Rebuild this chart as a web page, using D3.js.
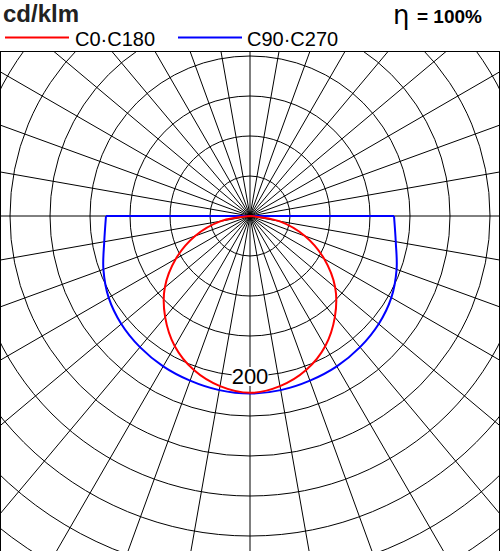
<!DOCTYPE html>
<html><head><meta charset="utf-8">
<script src="https://cdn.jsdelivr.net/npm/d3@7"></script>
<style>body{margin:0;background:#fff}</style>
</head><body>
<svg id="c" width="500" height="551"></svg>
<script>
// gamma angles (deg from nadir) and intensities in cd/klm
var angles = [0, 10, 20, 30, 40, 50, 60, 70, 80, 90];
var c0c180 = [221, 216, 205, 188, 165, 139, 107, 73, 37, 0];
var c90c270 = [222, 221, 219, 217, 214, 210, 204, 195, 185, 180];
var ringStep = 50;
var ringLabel = 200;

var svg = d3.select('#c');
var cx = 250, cy = 216;
var r = d3.scaleLinear().domain([0, 50]).range([0, 40]);

svg.append('clipPath').attr('id', 'clip').append('rect')
    .attr('x', 0).attr('y', 51).attr('width', 500).attr('height', 500);

var g = svg.append('g').attr('clip-path', 'url(#clip)');
var rings = d3.range(ringStep, 550, ringStep);
g.selectAll('circle.ring').data(rings).enter().append('circle')
    .attr('cx', cx).attr('cy', cy).attr('r', function(d) { return r(d); })
    .attr('fill', 'none').attr('stroke', '#000').attr('stroke-width', 1);
g.selectAll('line.spoke').data(d3.range(0, 360, 10)).enter().append('line')
    .attr('x1', cx).attr('y1', cy)
    .attr('x2', function(d) { return cx + 700 * Math.sin(d * Math.PI / 180); })
    .attr('y2', function(d) { return cy + 700 * Math.cos(d * Math.PI / 180); })
    .attr('stroke', '#000').attr('stroke-width', 1);

function curve(vals) {
    var pts = [];
    angles.forEach(function(a, i) { pts.push([-a, vals[i]]); });
    pts.reverse();
    angles.slice(1).forEach(function(a, i) { pts.push([a, vals[i + 1]]); });
    return pts;
}
var line = d3.line()
    .x(function(d) { return cx + r(d[1]) * Math.sin(d[0] * Math.PI / 180); })
    .y(function(d) { return cy + r(d[1]) * Math.cos(d[0] * Math.PI / 180); })
    .curve(d3.curveCardinal);
function draw(vals, col) {
    var p = curve(vals);
    g.append('path').attr('d', line(p)).attr('fill', 'none').attr('stroke', col).attr('stroke-width', 2);
    // close across the horizontal through the centre
    var a = p[0], b = p[p.length - 1];
    g.append('path').attr('d', d3.line()([[line.x()(a), line.y()(a)], [cx, cy], [line.x()(b), line.y()(b)]]))
        .attr('fill', 'none').attr('stroke', col).attr('stroke-width', 2);
}
draw(c90c270, '#0000ff');
draw(c0c180, '#ff0000');

var lbl = svg.append('text').attr('x', cx).attr('y', cy + r(ringLabel) + 8)
    .attr('text-anchor', 'middle').attr('font-family', 'Liberation Sans, Arial')
    .attr('font-size', 22).text(ringLabel);
var bb = lbl.node().getBBox();
svg.insert('rect', 'text').attr('x', bb.x).attr('y', bb.y + 3).attr('width', bb.width).attr('height', bb.height - 6).attr('fill', '#fff');

svg.append('rect').attr('x', 0.5).attr('y', 51.5).attr('width', 499).attr('height', 500)
    .attr('fill', 'none').attr('stroke', '#000');

var font = 'Liberation Sans, Arial';
svg.append('text').attr('x', 3).attr('y', 22).attr('font-family', font).attr('font-weight', 'bold')
    .attr('font-size', 24).attr('fill', '#222').text('cd/klm');
svg.append('line').attr('x1', 5).attr('x2', 69).attr('y1', 37.5).attr('y2', 37.5).attr('stroke', '#ff0000').attr('stroke-width', 2);
svg.append('text').attr('x', 75).attr('y', 46).attr('font-family', font).attr('font-size', 20).text('C0·C180');
svg.append('line').attr('x1', 178).attr('x2', 242).attr('y1', 37.5).attr('y2', 37.5).attr('stroke', '#0000ff').attr('stroke-width', 2);
svg.append('text').attr('x', 247).attr('y', 46).attr('font-family', font).attr('font-size', 20).text('C90·C270');
svg.append('text').attr('x', 393).attr('y', 24).attr('font-family', 'DejaVu Sans').attr('font-size', 26).text('η');
svg.append('text').attr('x', 417).attr('y', 23).attr('font-family', font).attr('font-weight', 'bold').attr('font-size', 19).text('= 100%');
</script>
</body></html>
